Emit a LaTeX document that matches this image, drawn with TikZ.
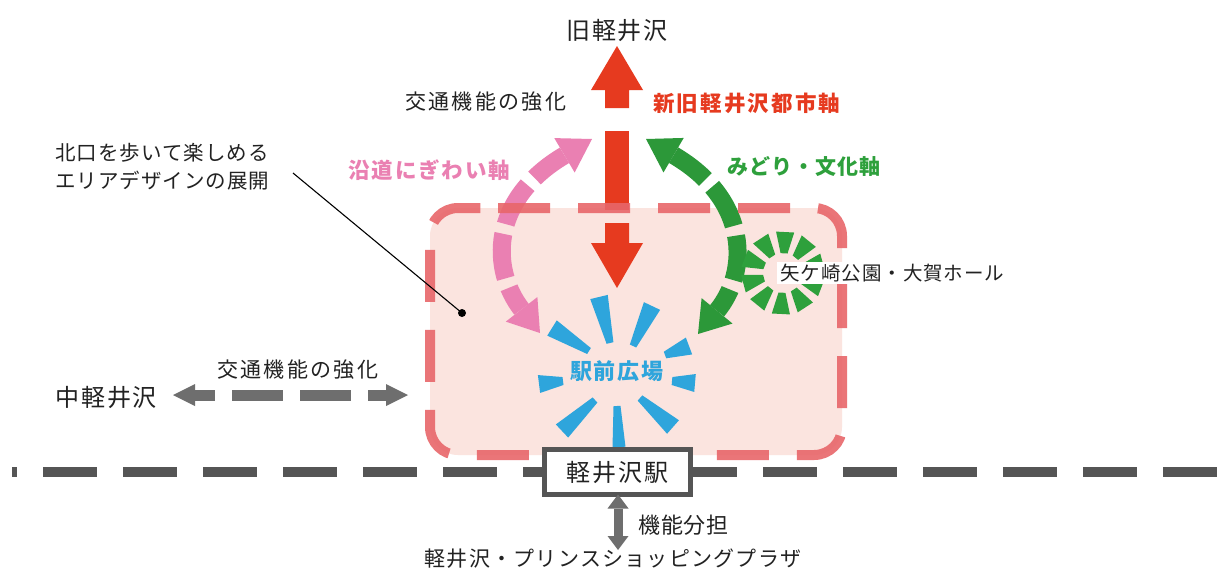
\documentclass[tikz,border=0pt]{standalone}
\usepackage{fontspec}
\setmainfont{Noto Sans CJK JP}
\usetikzlibrary{arrows.meta,calc}
\definecolor{cred}{HTML}{E63A1F}
\definecolor{cpink}{HTML}{EA80B2}
\definecolor{cgreen}{HTML}{2EA03C}
\definecolor{cblue}{HTML}{2EA5DC}
\definecolor{cborder}{HTML}{E8666A}
\definecolor{cfill}{HTML}{FBE4DF}
\definecolor{cgray}{HTML}{6E6E6E}
\definecolor{crail}{HTML}{555555}
\definecolor{ctext}{HTML}{222222}
\newcommand\jf[2]{\fontsize{#1}{#1}\selectfont\addfontfeature{LetterSpace=#2}}
\newcommand\burstray[4]{%
  \fill ($(#1)!#3!90:(#2)$) -- ($(#1)!#3!-90:(#2)$) -- ($(#2)!#4!90:(#1)$) -- ($(#2)!#4!-90:(#1)$) -- cycle;}
\tikzset{
  lbl/.style={inner sep=0pt, text=ctext},
  arcarrow/.style={line width=18pt, dash pattern=on 45pt off 10pt, dash phase=20pt,
    {Triangle[width=40pt,length=30pt,line width=0pt]}-{Triangle[width=40pt,length=32pt,line width=0pt]}},
  grayarrow/.style={draw=cgray, {Triangle[width=22pt,length=22pt,line width=0pt]}-{Triangle[width=22pt,length=22pt,line width=0pt]}}
}
\begin{document}
\begin{tikzpicture}[x=1pt,y=-1pt]
\useasboundingbox (0,0) rectangle (1217,574);
\fill[white] (0,0) rectangle (1217,574);

% area fill
\fill[cfill, rounded corners=28pt] (430,208) rectangle (842,455);

% railway
\coordinate (railW) at (12,472);
\coordinate (railE) at (1217,472);
\draw[crail, line width=10pt, dash pattern=on 54pt off 26pt, dash phase=49pt] (railW) -- (railE);

% blue burst
\begin{scope}[cblue]
\burstray{610,343}{599,297}{3.5pt}{9pt}
\burstray{633,346}{652,306}{3.5pt}{9pt}
\burstray{665,355}{689,346}{3.5pt}{9pt}
\burstray{672,381}{695,383}{4pt}{9pt}
\burstray{640,398}{673,427}{3.5pt}{9pt}
\burstray{617,406}{619,447}{3.5pt}{6.5pt}
\burstray{595,400}{562,431}{3.5pt}{9pt}
\burstray{563,381}{539,384}{4pt}{9pt}
\burstray{589,351}{552,328}{3.5pt}{9pt}
\end{scope}

% red axis
\fill[cred] (617,46) -- (643,90) -- (629,90) -- (629,108) -- (605,108) -- (605,90) -- (591,90) -- cycle;
\fill[cred] (605,131) rectangle (629,210);
\fill[cred] (605,223) -- (629,223) -- (629,243) -- (643,243) -- (617,288) -- (591,243) -- (605,243) -- cycle;

% pink and green arcs
\coordinate (pinkS) at (540,333);
\coordinate (pinkE) at (592,139);
\coordinate (greenS) at (698,334);
\coordinate (greenE) at (646,139);
\draw[cpink, arcarrow] (pinkS) .. controls (491,270) and (489,200) .. (pinkE);
\draw[cgreen!95!black, arcarrow] (greenS) .. controls (749,272) and (750,200) .. (greenE);

% green burst
\coordinate (gc) at (783,273);
\foreach \a in {93,129,...,417} {
  \fill[cgreen] ($(gc)+(\a-10:20)$) -- ($(gc)+(\a+10:20)$) -- ($(gc)+(\a+12.5:42)$) -- ($(gc)+(\a-12.5:42)$) -- cycle;
}

% area border
\draw[cborder, opacity=0.9, line width=10pt, dash pattern=on 52pt off 28pt, rounded corners=28pt]
  (498,208) -- (842,208) -- (842,455) -- (430,455) -- (430,208) -- (498,208);

% labels
\node[lbl] (old) at (617,30) {\jf{24}{8}旧軽井沢};
\node[lbl, anchor=west] (kotsu1) at (405,102) {\jf{21}{11}交通機能の強化};
\node[lbl, anchor=west, text=cred] (axis) at (653,103) {\bfseries\jf{21.5}{10}新旧軽井沢都市軸};
\node[lbl, anchor=west, text=cpink] (pinklbl) at (348,170) {\bfseries\jf{21.5}{9}沿道にぎわい軸};
\node[lbl, anchor=west, text=cgreen] (greenlbl) at (727,167) {\bfseries\jf{21}{5}みどり・文化軸};
\node[lbl, anchor=west, align=left] (north) at (55,167) {\jf{20.5}{5}北口を歩いて楽しめる\\[8pt]\jf{20.5}{5}エリアデザインの展開};
\node[lbl, text=cblue] (plaza) at (617,371) {\bfseries\jf{22}{9}駅前広場};
\node[lbl, anchor=west, fill=white, inner xsep=3pt, inner ysep=2pt] (park) at (777,273) {\jf{19.5}{5}矢ケ崎公園・大賀ホール};

% leader
\coordinate (leadS) at (293,173);
\node[circle, fill=black, inner sep=0pt, minimum size=8pt] (dot) at (462,313) {};
\draw[black, line width=1.1pt] (leadS) -- (dot.center);

% west axis
\node[lbl, anchor=west] (naka) at (55,397) {\jf{24}{8}中軽井沢};
\node[lbl, anchor=west] (kotsu2) at (217,370) {\jf{21}{11}交通機能の強化};
\coordinate (wW) at (173,395);
\coordinate (wE) at (408,395);
\draw[grayarrow, line width=11pt, dash pattern=on 51pt off 17pt, dash phase=31pt] (wW) -- (wE);

% station
\node[draw=crail, line width=5pt, fill=white, minimum width=146pt, minimum height=45pt, inner sep=0pt, text=ctext] (station) at (617.5,472) {\jf{24}{8}軽井沢駅};
\coordinate (south) at (618,550);
\draw[grayarrow, line width=9pt, {Triangle[width=21pt,length=14pt,line width=0pt]}-{Triangle[width=21pt,length=14pt,line width=0pt]}] (618,494.5) -- (south);
\node[lbl, anchor=west] (share) at (638,525) {\jf{22}{4}機能分担};
\node[lbl] (prince) at (613,559) {\jf{21}{6}軽井沢・プリンスショッピングプラザ};
\end{tikzpicture}
\end{document}
